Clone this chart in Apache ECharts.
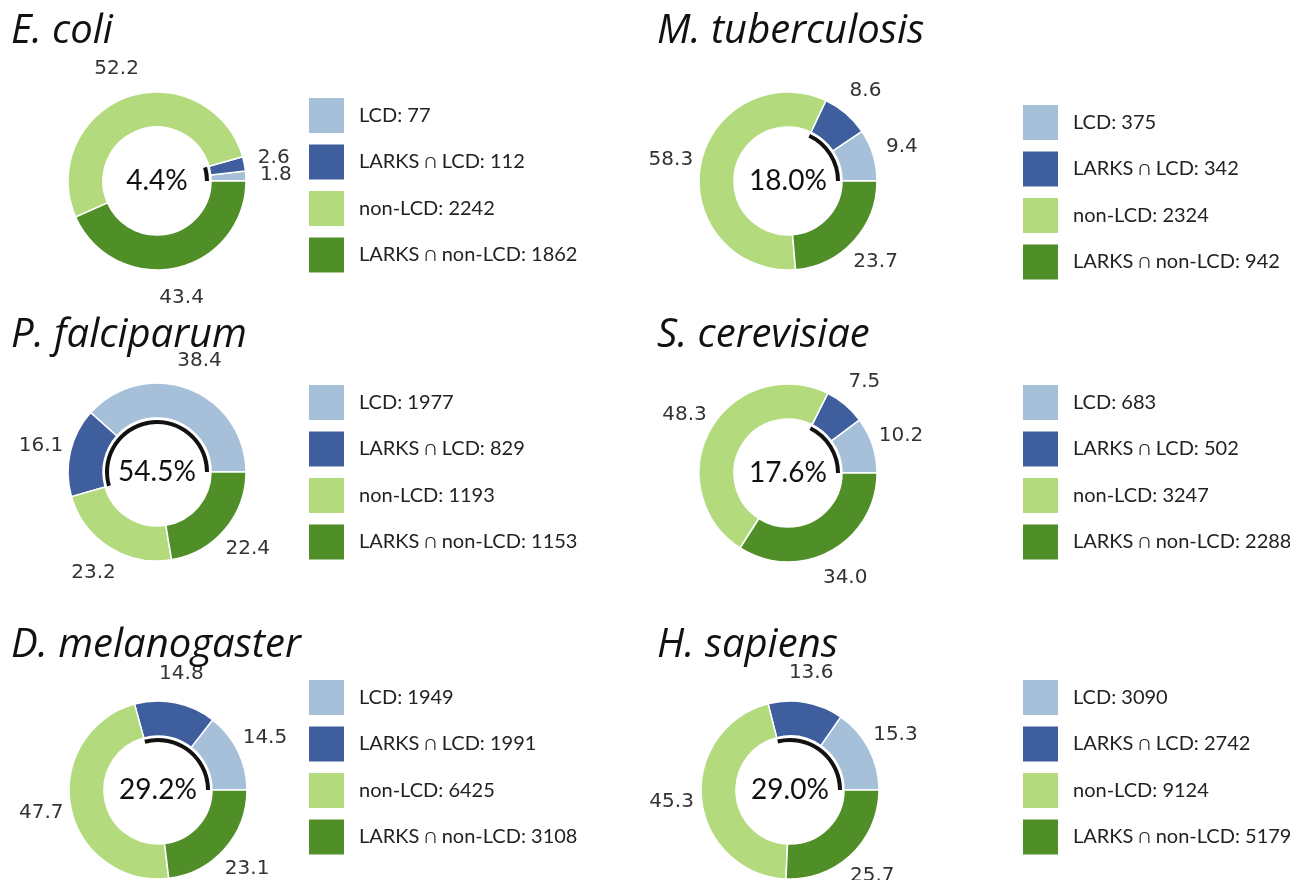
<!DOCTYPE html>
<html>
<head>
<meta charset="utf-8">
<script src="https://cdn.jsdelivr.net/npm/echarts@6/dist/echarts.min.js"></script>
<style>
  html, body { margin: 0; background: #fff; }
  #chart { width: 1290px; height: 880px; }
</style>
</head>
<body>
<div id="chart"></div>
<script>
const species = ['E. coli', 'M. tuberculosis', 'P. falciparum', 'S. cerevisiae', 'D. melanogaster', 'H. sapiens']
const categories = ['LCD', 'LARKS ∩ LCD', 'non-LCD', 'LARKS ∩ non-LCD']
const lcdCounts = [77, 375, 1977, 683, 1949, 3090]
const larksLcdCounts = [112, 342, 829, 502, 1991, 2742]
const nonLcdCounts = [2242, 2324, 1193, 3247, 6425, 9124]
const larksNonLcdCounts = [1862, 942, 1153, 2288, 3108, 5179]

const colors = ['#a7c0da', '#3e5e9e', '#b3db7e', '#508e28']

// where each panel sits: donut centre, title corner, legend corner
const panels = [
  { cx: 157, cy: 181, tx: 11, ty: 12, lx: 307, ly: 96 },
  { cx: 788, cy: 181, tx: 657, ty: 12, lx: 1021, ly: 103 },
  { cx: 157, cy: 472, tx: 11, ty: 316, lx: 307, ly: 383 },
  { cx: 788, cy: 473, tx: 657, ty: 316, lx: 1021, ly: 383 },
  { cx: 158, cy: 790, tx: 11, ty: 626, lx: 307, ly: 678 },
  { cx: 790, cy: 790, tx: 657, ty: 626, lx: 1021, ly: 678 },
]

const chart = echarts.init(document.getElementById('chart'))

const title = []
const legend = []
const series = []

species.forEach((sp, i) => {
  const p = panels[i]
  const vals = [lcdCounts[i], larksLcdCounts[i], nonLcdCounts[i], larksNonLcdCounts[i]]
  const total = vals.reduce((a, b) => a + b, 0)
  const lcdShare = vals[0] + vals[1]
  const names = categories.map((c, j) => `${c}: ${vals[j]}`)

  title.push({
    text: sp,
    left: p.tx,
    top: p.ty,
    padding: 0,
    textStyle: { fontFamily: 'Open Sans', fontStyle: 'italic', fontWeight: 'normal', fontSize: 40, color: '#111' },
  })

  legend.push({
    orient: 'vertical',
    left: p.lx,
    top: p.ly,
    padding: 0,
    icon: 'rect',
    itemWidth: 37,
    itemHeight: 37,
    itemGap: 7.5,
    selectedMode: false,
    data: names,
    textStyle: { fontFamily: 'Lato', fontSize: 20, color: '#222', padding: [0, 0, 0, 9] },
  })

  // the ring
  series.push({
    type: 'pie',
    center: [p.cx, p.cy],
    radius: [54, 89],
    startAngle: 0,
    clockwise: false,
    silent: true,
    animation: false,
    label: { show: false },
    labelLine: { show: false },
    itemStyle: { borderColor: '#fff', borderWidth: 1.5 },
    data: vals.map((v, j) => ({ name: names[j], value: v, itemStyle: { color: colors[j] } })),
  })

  // percentage labels, placed by an invisible ring outside the donut
  series.push({
    type: 'pie',
    center: [p.cx, p.cy],
    radius: [110, 122],
    startAngle: 0,
    clockwise: false,
    silent: true,
    animation: false,
    avoidLabelOverlap: false,
    labelLayout: { hideOverlap: false },
    itemStyle: { color: 'rgba(0,0,0,0)', borderWidth: 0 },
    label: {
      show: true,
      position: 'inside',
      fontFamily: 'DejaVu Sans',
      fontSize: 20,
      color: '#333',
      formatter: (d) => ((d.value / total) * 100).toFixed(1),
    },
    labelLine: { show: false },
    data: vals.map((v, j) => ({ name: `pct-${i}-${j}`, value: v })),
  })

  // black arc over the LCD share, with the share written in the middle
  series.push({
    type: 'pie',
    center: [p.cx, p.cy],
    radius: [48, 52],
    startAngle: 0,
    clockwise: false,
    silent: true,
    animation: false,
    labelLine: { show: false },
    data: [
      {
        name: `arc-${i}`,
        value: lcdShare,
        itemStyle: { color: '#111' },
        label: {
          show: true,
          position: 'center',
          fontFamily: 'Lato',
          fontSize: 28,
          color: '#111',
          formatter: () => ((lcdShare / total) * 100).toFixed(1) + '%',
        },
      },
      {
        name: `rest-${i}`,
        value: total - lcdShare,
        itemStyle: { color: 'rgba(0,0,0,0)' },
        label: { show: false },
      },
    ],
  })
})

chart.setOption({ animation: false, title, legend, series })
</script>
</body>
</html>
